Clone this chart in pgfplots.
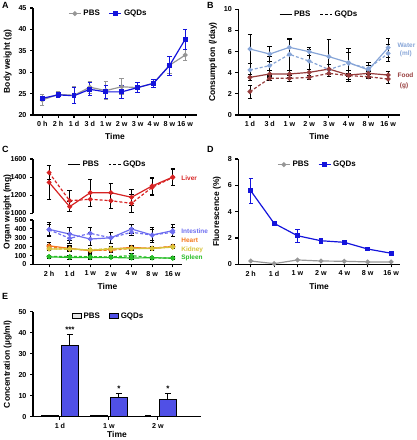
\documentclass[border=0pt]{standalone}
\usepackage{pgfplots}
\pgfplotsset{compat=1.18}
\usepackage{fontspec}
\setmainfont{Liberation Sans}
\definecolor{pbsgray}{RGB}{150,150,150}
\definecolor{gqdblue}{RGB}{20,20,220}
\definecolor{barblue}{RGB}{80,80,230}
\definecolor{water}{RGB}{135,165,215}
\definecolor{food}{RGB}{150,60,60}
\definecolor{liver}{RGB}{215,35,35}
\definecolor{intest}{RGB}{110,110,240}
\definecolor{heart}{RGB}{245,120,30}
\definecolor{kidney}{RGB}{215,195,60}
\definecolor{spleen}{RGB}{40,190,40}
\newcommand{\tlfont}{\fontsize{7.2}{8}\selectfont\bfseries}
\newcommand{\lbfont}{\fontsize{8.5}{9}\selectfont\bfseries}
\newcommand{\lgfont}{\fontsize{8}{9}\selectfont\bfseries}
\newcommand{\smfont}{\fontsize{6.5}{7}\selectfont\bfseries}
\pgfplotsset{
 pr/.style={scale only axis, anchor=south west, axis x line*=bottom, axis y line*=left,
   tick align=outside, axis line style={line width=1.1pt, black},
   major tick length=3bp, tick style={line width=1.1pt, black},
   tick label style={font=\tlfont}, label style={font=\lbfont},
   /pgf/number format/assume math mode=true, /pgf/number format/1000 sep={},
   scaled ticks=false, clip=false,
   legend style={draw=none, fill=none, font=\lgfont, legend columns=2,
     /tikz/every even column/.append style={column sep=7bp}},
   legend image code/.code={\draw[mark repeat=2,mark phase=2,##1] plot coordinates {(0bp,0bp)(6bp,0bp)(12bp,0bp)};},
 },
 eb/.style={error bars/y dir=both, error bars/y explicit,
   error bars/error mark options={rotate=90, mark size=2.2bp, line width=0.9pt, solid, #1},
   error bars/error bar style={line width=0.9pt, solid, #1}},
 ln/.style={color=#1, line width=1.2pt, mark=*, mark size=1.8bp, mark options={solid}},
 dl/.style={dash pattern=on 3pt off 2pt},
 lineleg/.style={legend image code/.code={\draw[##1] (0bp,0bp) -- (12bp,0bp);}},
 barleg/.style={legend image code/.code={\draw[##1] (0bp,-2.5bp) rectangle (9bp,2.5bp);}},
 eberr/.style={error bars/y dir=plus, error bars/y explicit,
  error bars/error mark options={rotate=90, mark size=3bp, line width=0.9pt, black},
  error bars/error bar style={line width=0.9pt, black}},
}
\begin{document}
\begin{tikzpicture}
\useasboundingbox (0,0) rectangle (417bp,440bp);
\node[anchor=north west, font=\fontsize{9}{10}\selectfont\bfseries, inner sep=0] at (2bp,438bp) {A};
\node[anchor=north west, font=\fontsize{9}{10}\selectfont\bfseries, inner sep=0] at (207bp,438bp) {B};
\node[anchor=north west, font=\fontsize{9}{10}\selectfont\bfseries, inner sep=0] at (2bp,294bp) {C};
\node[anchor=north west, font=\fontsize{9}{10}\selectfont\bfseries, inner sep=0] at (207bp,294bp) {D};
\node[anchor=north west, font=\fontsize{9}{10}\selectfont\bfseries, inner sep=0] at (2bp,147bp) {E};

% ---------------- A
\begin{axis}[pr, at={(33bp,325bp)}, width=164bp, height=107bp,
  xmin=-0.58, xmax=9.74, ymin=20, ymax=45, ytick={20,25,...,45},
  xtick={0,...,9}, xticklabels={0 h,2 h,1 d,3 d,1 w,2 w,3 w,4 w,8 w,16 w},
  xlabel={Time}, ylabel={Body weight (g)},
  legend style={at={(0.46,1.02)}, anchor=north}]
\addplot[ln=pbsgray, eb=pbsgray] coordinates {
 (0,23.5) +- (0,1.3) (1,24.8) +- (0,0.6) (2,24.6) +- (0,2.0) (3,26.5) +- (0,1.4)
 (4,25.7) +- (0,2.1) (5,26.6) +- (0,1.9) (6,26.4) +- (0,1.2) (7,27.4) +- (0,1.0)
 (8,31.6) +- (0,2.0) (9,34.0) +- (0,1.2)};
\addlegendentry{PBS}
\addplot[ln=gqdblue, mark=square*, eb=gqdblue] coordinates {
 (0,23.9) +- (0,0.5) (1,24.7) +- (0,0.6) (2,24.5) +- (0,1.9) (3,26.0) +- (0,1.5)
 (4,25.4) +- (0,1.5) (5,25.4) +- (0,1.5) (6,26.4) +- (0,1.2) (7,27.4) +- (0,1.0)
 (8,31.5) +- (0,2.2) (9,37.7) +- (0,2.4)};
\addlegendentry{GQDs}
\end{axis}

% ---------------- B
\begin{axis}[pr, lineleg, at={(238.3bp,325bp)}, width=161.7bp, height=105.7bp,
  xmin=-0.59, xmax=7.6, ymin=0, ymax=10, ytick={0,2,...,10},
  xtick={0,...,7}, xticklabels={1 d,3 d,1 w,2 w,3 w,4 w,8 w,16 w},
  xlabel={Time}, ylabel={Consumption (/day)},
  legend style={at={(0.5,1.02)}, anchor=north}]
\addlegendimage{black, line width=1.2pt}
\addlegendentry{PBS}
\addlegendimage{black, line width=1.2pt, dl}
\addlegendentry{GQDs}
\addplot[ln=water, eb=black, forget plot] coordinates {
 (0,6.24) +- (0,1.4) (1,5.77) +- (0,0.75) (2,6.4) +- (0,0.7) (3,5.99) +- (0,0.4)
 (4,5.52) +- (0,1.6) (5,4.95) +- (0,1.3) (6,4.26) +- (0,0.7) (7,6.37) +- (0,0.9)};
\addplot[ln=water, dl, eb=black, forget plot] coordinates {
 (0,4.26) +- (0,0.6) (1,4.67) +- (0,0.9) (2,5.74) +- (0,1.5) (3,5.1) +- (0,1.1)
 (4,4.3) +- (0,0.5) (5,4.9) +- (0,1.0) (6,4.4) +- (0,0.3) (7,5.83) +- (0,0.8)};
\addplot[ln=food, eb=black, forget plot] coordinates {
 (0,3.56) +- (0,0.3) (1,3.88) +- (0,0.3) (2,3.88) +- (0,0.3) (3,4.03) +- (0,0.3)
 (4,4.35) +- (0,0.4) (5,3.78) +- (0,0.4) (6,3.94) +- (0,0.3) (7,3.78) +- (0,0.3)};
\addplot[ln=food, dl, eb=black, forget plot] coordinates {
 (0,2.21) +- (0,0.6) (1,3.47) +- (0,0.2) (2,3.47) +- (0,0.3) (3,3.56) +- (0,0.2)
 (4,3.94) +- (0,0.3) (5,3.72) +- (0,0.5) (6,3.62) +- (0,0.2) (7,3.4) +- (0,0.4)};
\node[font=\smfont, color=water, anchor=west] at (axis cs:7.3,6.6) {Water};
\node[font=\smfont, color=water, anchor=west] at (axis cs:7.42,5.75) {(ml)};
\node[font=\smfont, color=food, anchor=west] at (axis cs:7.3,3.8) {Food};
\node[font=\smfont, color=food, anchor=west] at (axis cs:7.42,2.8) {(g)};
\end{axis}

% ---------------- C upper
\begin{axis}[pr, lineleg, at={(33bp,226.7bp)}, width=149bp, height=54.3bp,
  axis x line=none, xmin=-0.78, xmax=6.45, ymin=1000, ymax=1600,
  ytick={1000,1200,1400,1600},
  legend style={at={(0.5,1.04)}, anchor=north}]
\addlegendimage{black, line width=1.2pt}
\addlegendentry{PBS}
\addlegendimage{black, line width=1.2pt, dl}
\addlegendentry{GQDs}
\addplot[ln=liver, eb=black, forget plot] coordinates {
 (0,1342) +- (0,190) (1,1073) +- (0,55) (2,1228) +- (0,150) (3,1228) +- (0,100)
 (4,1177) +- (0,90) (5,1302) +- (0,95) (6,1400) +- (0,95)};
\addplot[ln=liver, dl, eb=black, forget plot] coordinates {
 (0,1449) +- (0,75) (1,1139) +- (0,115) (2,1155) +- (0,80) (3,1139) +- (0,85)
 (4,1110) +- (0,100) (5,1287) +- (0,95) (6,1395) +- (0,90)};
\node[font=\smfont, color=liver, anchor=west] at (axis cs:6.25,1390) {Liver};
\end{axis}

% ---------------- C lower
\begin{axis}[pr, at={(33bp,175.5bp)}, width=149bp, height=44.5bp,
  xmin=-0.78, xmax=6.45, ymin=0, ymax=500, ytick={0,100,...,500},
  xtick={0,...,6}, xticklabels={2 h,1 d,1 w,2 w,4 w,8 w,16 w},
  xlabel={Time}]
\addplot[ln=intest, eb=black] coordinates {
 (0,395) +- (0,80) (1,342) +- (0,75) (2,286) +- (0,70) (3,300) +- (0,65)
 (4,399) +- (0,50) (5,331) +- (0,80) (6,380) +- (0,70)};
\addplot[ln=intest, dl, eb=black] coordinates {
 (0,390) +- (0,60) (1,294) +- (0,60) (2,350) +- (0,70) (3,300) +- (0,60)
 (4,362) +- (0,40) (5,331) +- (0,60) (6,362) +- (0,50)};
\addplot[ln=heart, eb=black] coordinates {
 (0,210) +- (0,35) (1,181) +- (0,30) (2,154) +- (0,30) (3,173) +- (0,30)
 (4,192) +- (0,25) (5,181) +- (0,20) (6,203) +- (0,20)};
\addplot[ln=heart, dl, eb=black] coordinates {
 (0,200) +- (0,30) (1,175) +- (0,25) (2,160) +- (0,25) (3,160) +- (0,25)
 (4,180) +- (0,20) (5,182) +- (0,20) (6,205) +- (0,20)};
\addplot[ln=kidney, eb=black] coordinates {
 (0,173) +- (0,15) (1,177) +- (0,15) (2,162) +- (0,15) (3,175) +- (0,15)
 (4,178) +- (0,15) (5,180) +- (0,15) (6,195) +- (0,15)};
\addplot[ln=kidney, dl, eb=black] coordinates {
 (0,178) +- (0,15) (1,170) +- (0,15) (2,165) +- (0,15) (3,180) +- (0,15)
 (4,182) +- (0,15) (5,182) +- (0,15) (6,198) +- (0,15)};
\addplot[ln=spleen, eb=black] coordinates {
 (0,86) +- (0,20) (1,79) +- (0,20) (2,79) +- (0,25) (3,79) +- (0,15)
 (4,73) +- (0,20) (5,76) +- (0,15) (6,72) +- (0,20)};
\addplot[ln=spleen, dl, eb=black] coordinates {
 (0,90) +- (0,15) (1,90) +- (0,15) (2,88) +- (0,20) (3,85) +- (0,15)
 (4,100) +- (0,20) (5,76) +- (0,15) (6,70) +- (0,15)};
\node[font=\smfont, color=intest, anchor=west] at (axis cs:6.25,375) {Intestine};
\node[font=\smfont, color=heart, anchor=west] at (axis cs:6.25,275) {Heart};
\node[font=\smfont, color=kidney, anchor=west] at (axis cs:6.25,162) {Kidney};
\node[font=\smfont, color=spleen, anchor=west] at (axis cs:6.25,70) {Spleen};
\end{axis}
\node[rotate=90, font=\lbfont] at (7.5bp,228bp) {Organ weight (mg)};

% ---------------- D
\begin{axis}[pr, at={(238.3bp,175.7bp)}, width=161.7bp, height=105.3bp,
  xmin=-0.53, xmax=6.38, ymin=0, ymax=8, ytick={0,2,...,8},
  xtick={0,...,6}, xticklabels={2 h,1 d,1 w,2 w,4 w,8 w,16 w},
  xlabel={Time}, ylabel={Fluorescence (\%)},
  legend style={at={(0.49,1.02)}, anchor=north}]
\addplot[ln=pbsgray] coordinates {
 (0,0.25) (1,0.05) (2,0.33) (3,0.25) (4,0.23) (5,0.18) (6,0.18)};
\addlegendentry{PBS}
\addplot[ln=gqdblue, mark=square*, eb=gqdblue] coordinates {
 (0,5.59) +- (0,0.94) (1,3.11) +- (0,0.17) (2,2.17) +- (0,0.5) (3,1.79) +- (0,0.2)
 (4,1.67) +- (0,0.1) (5,1.16) +- (0,0.08) (6,0.84) +- (0,0.07)};
\addlegendentry{GQDs}
\end{axis}

% ---------------- E
\begin{axis}[pr, at={(33bp,23.3bp)}, width=168bp, height=105bp,
  ybar=3.5bp, bar width=16.5bp,
  xmin=-0.55, xmax=2.88, ymin=0, ymax=50, ytick={0,10,...,50},
  xtick={0,1,2}, xticklabels={1 d,1 w,2 w},
  xlabel={Time}, ylabel={Concentration (\textmu g/ml)},
  xlabel style={yshift=4bp},
  legend style={at={(0.45,1.03)}, anchor=north}]
\addplot[fill=black!10, draw=black, line width=0.8pt, eberr, barleg] coordinates {
 (0,0.4) +- (0,0.1) (1,0.5) +- (0,0.1) (2,0.35) +- (0,0.1)};
\addlegendentry{PBS}
\addplot[fill=barblue, draw=black, line width=0.8pt, eberr, barleg] coordinates {
 (0,33.8) +- (0,5.4) (1,9.2) +- (0,1.9) (2,8.3) +- (0,2.7)};
\addlegendentry{GQDs}
\node[font=\lgfont, anchor=south, inner sep=1bp] at ([xshift=10bp]axis cs:0,39.5) {***};
\node[font=\lgfont, anchor=south, inner sep=1bp] at ([xshift=10bp]axis cs:1,11.4) {*};
\node[font=\lgfont, anchor=south, inner sep=1bp] at ([xshift=10bp]axis cs:2,11.3) {*};
\end{axis}
\end{tikzpicture}
\end{document}
